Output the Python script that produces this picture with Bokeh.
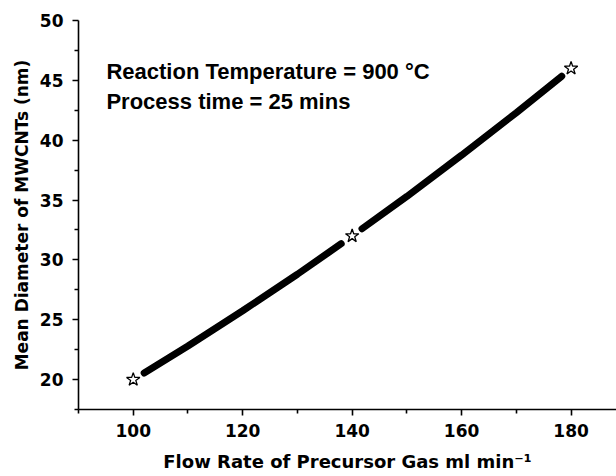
from bokeh.plotting import figure
from bokeh.models import Label, Range1d, FixedTicker
from bokeh.embed import file_html
from bokeh.resources import INLINE

# Data
star_x = [100, 140, 180]
star_y = [20.0, 32.0, 46.0]

seg1_x = [102.0, 110, 120, 130, 138]
seg1_y = [20.55, 22.8, 25.75, 28.8, 31.35]
seg2_x = [141.8, 150, 160, 170, 178.3]
seg2_y = [32.6, 35.3, 38.75, 42.3, 45.35]

x_ticks = [100, 120, 140, 160, 180]
y_ticks = [20, 25, 30, 35, 40, 45, 50]

ANN_FONT = "Liberation Sans"
AX_FONT = "DejaVu Sans"

p = figure(width=616, height=476, output_backend="svg", toolbar_location=None,
           x_range=Range1d(90, 188.3), y_range=Range1d(17.5, 50),
           min_border_left=78, min_border_top=20, min_border_bottom=67,
           min_border_right=0)
p.outline_line_color = None
p.grid.visible = False
p.background_fill_color = "white"
p.border_fill_color = "white"

p.line(seg1_x, seg1_y, line_width=7, line_color="black", line_cap="round")
p.line(seg2_x, seg2_y, line_width=7, line_color="black", line_cap="round")
p.scatter(star_x, star_y, marker="star", size=14, fill_color="white",
          line_color="black", line_width=1.3)

for ax in (p.xaxis[0], p.yaxis[0]):
    ax.axis_line_width = 1.6
    ax.axis_line_color = "black"
    ax.major_tick_line_width = 1.6
    ax.minor_tick_line_width = 1.6
    ax.major_tick_out = 6
    ax.major_tick_in = 0
    ax.minor_tick_out = 4
    ax.minor_tick_in = 0
    ax.major_label_text_font = AX_FONT
    ax.major_label_text_font_style = "bold"
    ax.major_label_text_font_size = "17px"
    ax.major_label_text_color = "black"
    ax.axis_label_text_font = AX_FONT
    ax.axis_label_text_font_style = "bold"
    ax.axis_label_text_color = "black"

p.xaxis.ticker = FixedTicker(ticks=x_ticks, minor_ticks=[90, 110, 130, 150, 170, 190])
p.yaxis.ticker = FixedTicker(ticks=y_ticks, minor_ticks=[17.5, 22.5, 27.5, 32.5, 37.5, 42.5, 47.5])
p.xaxis.major_label_standoff = 8
p.yaxis.major_label_standoff = 9
p.xaxis.axis_label = "Flow Rate of Precursor Gas ml min⁻¹"
p.xaxis.axis_label_text_font_size = "18px"
p.xaxis.axis_label_standoff = 11
p.yaxis.axis_label = "Mean Diameter of MWCNTs (nm)"
p.yaxis.axis_label_text_font_size = "17px"
p.yaxis.axis_label_standoff = 5

p.add_layout(Label(x=95.1, y=45.74, text="Reaction Temperature = 900 °C",
                   text_font=ANN_FONT, text_font_style="bold", text_font_size="22px",
                   text_color="black", text_baseline="alphabetic"))
p.add_layout(Label(x=95.1, y=43.23, text="Process time = 25 mins",
                   text_font=ANN_FONT, text_font_style="bold", text_font_size="22px",
                   text_color="black", text_baseline="alphabetic"))

open("out.html", "w").write(file_html(p, INLINE))
